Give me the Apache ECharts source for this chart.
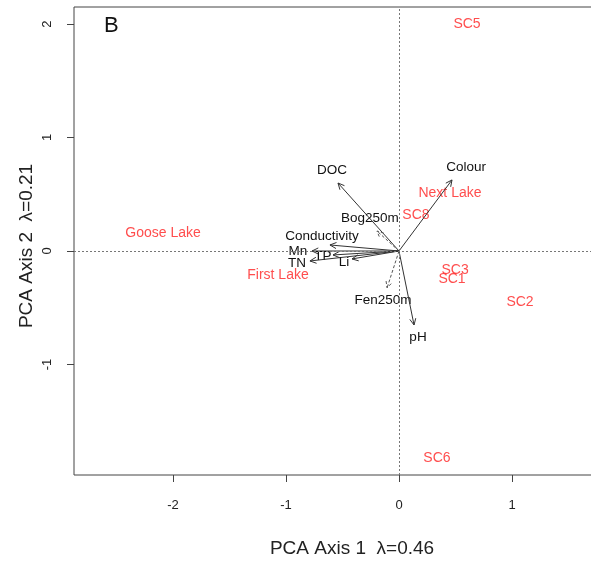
<!DOCTYPE html>
<html>
<head>
<meta charset="utf-8">
<script src="https://cdn.jsdelivr.net/npm/echarts@6/dist/echarts.min.js"></script>
<style>html,body{margin:0;padding:0;background:#fff}#c{width:591px;height:564px}</style>
</head>
<body>
<div id="c"></div>
<script>
// Environmental vectors (biplot arrows)
const arrowNames = ['DOC','Colour','Bog250m','Conductivity','Mn','TP','TN','Li','Fen250m','pH'];
const arrowX = [-0.540, 0.469, -0.195, -0.611, -0.770, -0.584, -0.788, -0.416, -0.106, 0.133];
const arrowY = [0.599, 0.626, 0.176, 0.053, 0.000, -0.035, -0.088, -0.070, -0.326, -0.652];
const arrowLabelX = [-0.593, 0.593, -0.257, -0.681, -0.894, -0.673, -0.903, -0.487, -0.142, 0.168];
const arrowLabelY = [0.714, 0.740, 0.291, 0.132, 0.000, -0.044, -0.106, -0.097, -0.432, -0.758];
const arrowPassive = [false, false, true, false, false, false, false, false, true, false];
// Sites
const siteNames = ['SC5','Goose Lake','Next Lake','SC8','First Lake','SC3','SC1','SC2','SC6'];
const siteX = [0.602, -2.088, 0.451, 0.150, -1.071, 0.496, 0.469, 1.071, 0.336];
const siteY = [2.000, 0.159, 0.511, 0.317, -0.211, -0.167, -0.247, -0.449, -1.824];
// Ticks
const xTicks = [-2, -1, 0, 1, 2];
const yTicks = [-1, 0, 1, 2];

const arrowData = arrowNames.map((n, i) => [arrowX[i], arrowY[i], arrowLabelX[i], arrowLabelY[i], n, arrowPassive[i] ? 1 : 0]);
const siteData = siteNames.map((n, i) => ({ name: n, value: [siteX[i], siteY[i]] }));

const chart = echarts.init(document.getElementById('c'), null, { renderer: 'canvas' });
const FONT = '"Liberation Sans", Arial, Helvetica, sans-serif';

chart.setOption({
  animation: false,
  backgroundColor: '#fff',
  textStyle: { fontFamily: FONT },
  grid: { left: 74, top: 7, width: 556, height: 468, outerBoundsMode: 'none', containLabel: false, show: true, borderColor: '#444', borderWidth: 1, backgroundColor: 'transparent' },
  xAxis: {
    type: 'value', min: -2.876, max: 2.044,
    axisLine: { show: false, onZero: false },
    splitLine: { show: false },
    axisTick: { show: true, length: 7, inside: false, customValues: xTicks, lineStyle: { color: '#444' } },
    axisLabel: { customValues: xTicks, margin: 24, fontSize: 13, color: '#222', fontFamily: FONT },
    name: 'PCA Axis 1  λ=0.46', nameLocation: 'middle', nameGap: 64,
    nameTextStyle: { fontSize: 19, color: '#222', fontFamily: FONT }
  },
  yAxis: {
    type: 'value', min: -1.974, max: 2.150,
    axisLine: { show: false, onZero: false },
    splitLine: { show: false },
    axisTick: { show: true, length: 7, inside: false, customValues: yTicks, lineStyle: { color: '#444' } },
    axisLabel: { customValues: yTicks, margin: 20, rotate: 90, fontSize: 13, color: '#222', fontFamily: FONT }
  },
  graphic: [{
    type: 'text', left: 104, top: 15,
    style: { text: 'B', fontSize: 22, fill: '#111', fontFamily: FONT }
  }, {
    type: 'text', x: 27, y: 246, rotation: Math.PI / 2,
    style: { text: 'PCA Axis 2  λ=0.21', fontSize: 19, fill: '#222', fontFamily: FONT, align: 'center', verticalAlign: 'middle' }
  }],
  series: [
    {
      type: 'scatter',
      data: siteData,
      symbolSize: 0,
      label: {
        show: true, position: 'inside', formatter: '{b}',
        color: '#ff2020', fontSize: 14, fontFamily: FONT
      },
      markLine: {
        silent: true, symbol: 'none', animation: false,
        label: { show: false },
        lineStyle: { type: [2, 2], color: '#777', width: 1 },
        data: [{ xAxis: 0 }, { yAxis: 0 }]
      },
      z: 3
    },
    {
      type: 'custom',
      data: arrowData,
      encode: { x: 0, y: 1 },
      renderItem: function (params, api) {
        const o = api.coord([0, 0]);
        const t = api.coord([api.value(0), api.value(1)]);
        const l = api.coord([api.value(2), api.value(3)]);
        const passive = api.value(5) === 1;
        const ang = Math.atan2(t[1] - o[1], t[0] - o[0]);
        const hl = 7, ha = Math.PI / 7;
        const h1 = [t[0] - hl * Math.cos(ang - ha), t[1] - hl * Math.sin(ang - ha)];
        const h2 = [t[0] - hl * Math.cos(ang + ha), t[1] - hl * Math.sin(ang + ha)];
        const color = passive ? '#555' : '#333';
        const dash = passive ? [3, 2] : null;
        return {
          type: 'group',
          children: [
            { type: 'line', shape: { x1: o[0], y1: o[1], x2: t[0], y2: t[1] }, style: { stroke: color, lineWidth: 1, lineDash: dash } },
            { type: 'polyline', shape: { points: [h1, t, h2] }, style: { stroke: color, lineWidth: 1, fill: null, lineDash: dash } },
            { type: 'text', x: l[0], y: l[1], style: { text: api.value(4), fontSize: 13.5, fill: '#111', align: 'center', verticalAlign: 'middle', fontFamily: FONT } }
          ]
        };
      },
      z: 4
    }
  ]
});
</script>
</body>
</html>
